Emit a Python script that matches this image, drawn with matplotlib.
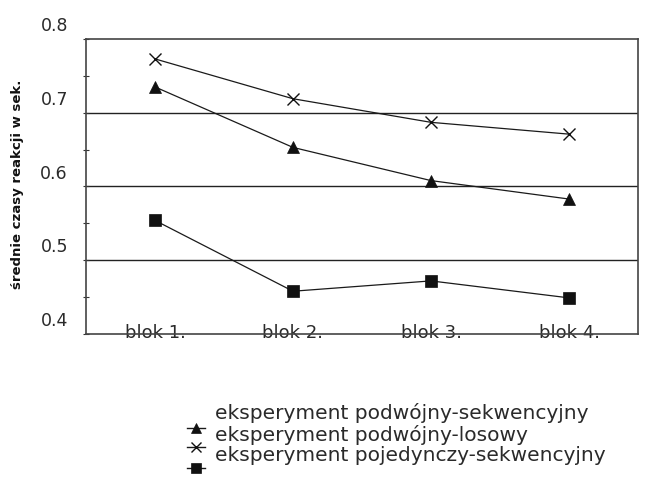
import matplotlib
matplotlib.use("Agg")
import matplotlib.pyplot as plt
import matplotlib.transforms as mtransforms
from matplotlib.lines import Line2D

categories = ["blok 1.", "blok 2.", "blok 3.", "blok 4."]
series_names = ["eksperyment podwójny-sekwencyjny",
                "eksperyment podwójny-losowy",
                "eksperyment pojedynczy-sekwencyjny"]
dbl_seq = [0.735, 0.653, 0.608, 0.583]
dbl_rand = [0.773, 0.719, 0.687, 0.671]
single_seq = [0.554, 0.458, 0.472, 0.449]
y_ticks = [0.4, 0.5, 0.6, 0.7, 0.8]
y_ticklabels = ["0.4", "0.5", "0.6", "0.7", "0.8"]
ylabel = "średnie czasy reakcji w sek."

plt.rcParams['font.family'] = ['DejaVu Sans']
txt_color = "#2a2a2a"

fig = plt.figure(figsize=(6.61, 4.94), dpi=100)
ax = fig.add_axes([86/661, 1 - 334/494, (638 - 86)/661, (334 - 39)/494])

x = list(range(len(categories)))
styles = [("^", 8.5), ("x", 8), ("s", 8)]
for vals, (m, ms) in zip([dbl_seq, dbl_rand, single_seq], styles):
    ax.plot(x, vals, color="#1a1a1a", linewidth=0.9, marker=m, markersize=ms,
            markeredgewidth=1.0 if m == "x" else 0.5, markerfacecolor="#111111",
            markeredgecolor="#111111", zorder=3)

ax.set_xlim(-0.5, len(categories) - 0.5)
ax.set_ylim(0.4, 0.8)
ax.set_yticks(y_ticks)
ax.set_yticklabels(y_ticklabels, fontsize=12.5, color=txt_color)
ax.set_yticks([0.45, 0.55, 0.65, 0.75], minor=True)
ax.set_xticks(x)
ax.set_xticklabels(categories, fontsize=13, color=txt_color)

for g in [0.5, 0.6, 0.7]:
    ax.axhline(g, color="#222222", linewidth=1.0, zorder=1)

for s in ax.spines.values():
    s.set_color("#444444")
    s.set_linewidth(1.2)

ax.tick_params(axis="y", which="both", direction="inout", length=4, width=0.8,
               color="#333333", pad=11)
ax.tick_params(axis="x", length=0, pad=0)

# labels in the scan sit above their tick positions
up_y = mtransforms.ScaledTranslation(0, 15/100, fig.dpi_scale_trans)
for lab in ax.get_yticklabels():
    lab.set_transform(lab.get_transform() + up_y)
up_x = mtransforms.ScaledTranslation(0, 10/100, fig.dpi_scale_trans)
for lab in ax.get_xticklabels():
    lab.set_transform(lab.get_transform() + up_x)

fig.text(18/661, 1 - 184/494, ylabel, rotation=90, ha="center", va="center",
         fontsize=9.5, fontweight="bold", color="#111111")

# legend, with markers offset half a line below their text as in the scan
text_y = [413, 435, 455]
mark_y = [428, 447, 468]
for name, ty in zip(series_names, text_y):
    fig.text(215/661, 1 - ty/494, name, fontsize=14.5, color=txt_color,
             ha="left", va="center")
for (m, ms), my in zip(styles, mark_y):
    fig.add_artist(Line2D([187/661, 196/661, 205/661], [1 - my/494] * 3,
                          transform=fig.transFigure, color="#1a1a1a",
                          linewidth=1.0, marker=m, markersize=ms - 1,
                          markevery=[1], markerfacecolor="#111111",
                          markeredgecolor="#111111",
                          markeredgewidth=1.0 if m == "x" else 0.5))

fig.savefig("out.png", dpi=100)
